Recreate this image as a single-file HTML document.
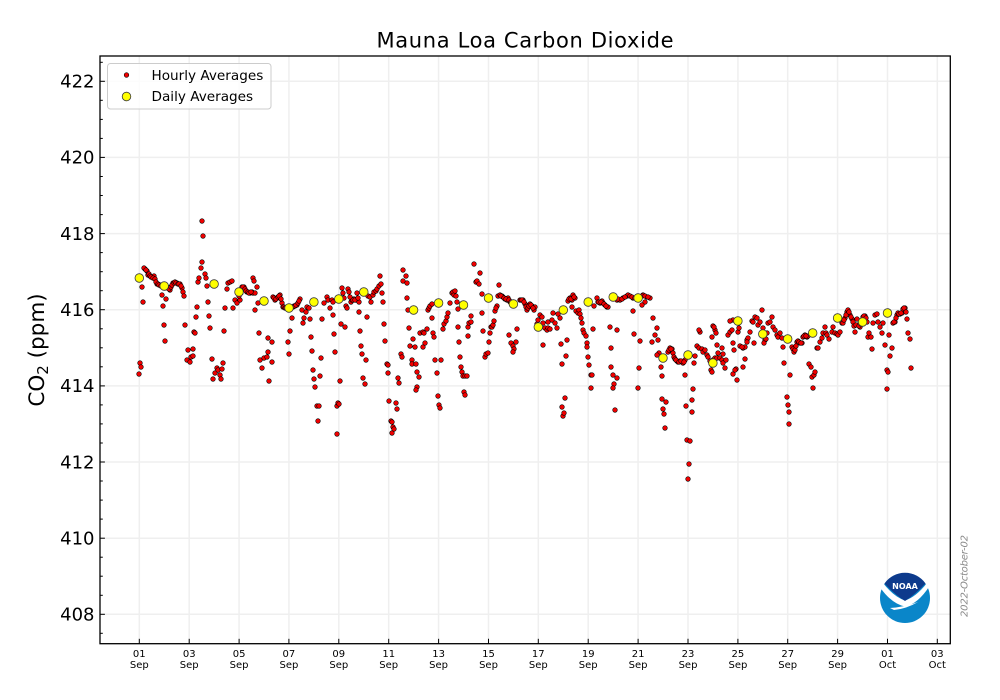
<!DOCTYPE html>
<html>
<head>
<meta charset="utf-8">
<style>
html,body{margin:0;padding:0;background:#fff;}
svg{display:block;}
text{font-family:"DejaVu Sans","Liberation Sans",sans-serif;}
</style>
</head>
<body>
<svg width="1000" height="700" viewBox="0 0 1000 700" xmlns="http://www.w3.org/2000/svg">
<rect x="0" y="0" width="1000" height="700" fill="#fff"/>
<!-- grid -->
<g stroke="#efefef" stroke-width="1.5">
<line x1="100" x2="950" y1="614.3" y2="614.3"/>
<line x1="100" x2="950" y1="538.2" y2="538.2"/>
<line x1="100" x2="950" y1="462.0" y2="462.0"/>
<line x1="100" x2="950" y1="385.9" y2="385.9"/>
<line x1="100" x2="950" y1="309.7" y2="309.7"/>
<line x1="100" x2="950" y1="233.6" y2="233.6"/>
<line x1="100" x2="950" y1="157.4" y2="157.4"/>
<line x1="100" x2="950" y1="81.3" y2="81.3"/>
<line y1="56" y2="643.7" x1="139.3" x2="139.3"/>
<line y1="56" y2="643.7" x1="189.2" x2="189.2"/>
<line y1="56" y2="643.7" x1="239.1" x2="239.1"/>
<line y1="56" y2="643.7" x1="288.9" x2="288.9"/>
<line y1="56" y2="643.7" x1="338.8" x2="338.8"/>
<line y1="56" y2="643.7" x1="388.7" x2="388.7"/>
<line y1="56" y2="643.7" x1="438.6" x2="438.6"/>
<line y1="56" y2="643.7" x1="488.5" x2="488.5"/>
<line y1="56" y2="643.7" x1="538.3" x2="538.3"/>
<line y1="56" y2="643.7" x1="588.2" x2="588.2"/>
<line y1="56" y2="643.7" x1="638.1" x2="638.1"/>
<line y1="56" y2="643.7" x1="688.0" x2="688.0"/>
<line y1="56" y2="643.7" x1="737.9" x2="737.9"/>
<line y1="56" y2="643.7" x1="787.7" x2="787.7"/>
<line y1="56" y2="643.7" x1="837.6" x2="837.6"/>
<line y1="56" y2="643.7" x1="887.5" x2="887.5"/>
<line y1="56" y2="643.7" x1="937.3" x2="937.3"/>
</g>

<!-- hourly -->
<g fill="#f00000" stroke="#000" stroke-width="0.6">
<circle cx="139" cy="374" r="2.3"/><circle cx="140" cy="363" r="2.3"/><circle cx="141" cy="367" r="2.3"/><circle cx="142" cy="287" r="2.3"/><circle cx="143" cy="302" r="2.3"/><circle cx="145" cy="269" r="2.3"/><circle cx="147" cy="271" r="2.3"/><circle cx="148" cy="275" r="2.3"/><circle cx="152" cy="277" r="2.3"/><circle cx="154" cy="276" r="2.3"/><circle cx="157" cy="284" r="2.3"/><circle cx="160" cy="285" r="2.3"/><circle cx="163" cy="287" r="2.3"/><circle cx="167" cy="287" r="2.3"/><circle cx="170" cy="290" r="2.3"/><circle cx="173" cy="283" r="2.3"/><circle cx="177" cy="283" r="2.3"/><circle cx="180" cy="284" r="2.3"/><circle cx="182" cy="288" r="2.3"/><circle cx="183" cy="292" r="2.3"/><circle cx="184" cy="296" r="2.3"/>
<circle cx="144" cy="268" r="2.3"/><circle cx="146" cy="270" r="2.3"/><circle cx="149" cy="274" r="2.3"/><circle cx="150" cy="276" r="2.3"/><circle cx="151" cy="277" r="2.3"/><circle cx="153" cy="278" r="2.3"/><circle cx="155" cy="279" r="2.3"/><circle cx="156" cy="282" r="2.3"/><circle cx="158" cy="284" r="2.3"/><circle cx="159" cy="285" r="2.3"/><circle cx="161" cy="286" r="2.3"/><circle cx="165" cy="288" r="2.3"/><circle cx="168" cy="288" r="2.3"/><circle cx="169" cy="289" r="2.3"/><circle cx="171" cy="287" r="2.3"/><circle cx="172" cy="285" r="2.3"/><circle cx="174" cy="283" r="2.3"/><circle cx="175" cy="282" r="2.3"/><circle cx="176" cy="283" r="2.3"/><circle cx="178" cy="284" r="2.3"/><circle cx="179" cy="284" r="2.3"/><circle cx="181" cy="286" r="2.3"/>
<circle cx="162" cy="295" r="2.3"/><circle cx="166" cy="299" r="2.3"/><circle cx="163" cy="306" r="2.3"/><circle cx="164" cy="325" r="2.3"/><circle cx="165" cy="341" r="2.3"/><circle cx="185" cy="325" r="2.3"/><circle cx="188" cy="350" r="2.3"/><circle cx="193" cy="349" r="2.3"/><circle cx="187" cy="360" r="2.3"/><circle cx="190" cy="362" r="2.3"/><circle cx="191" cy="357" r="2.3"/><circle cx="193" cy="356" r="2.3"/><circle cx="194" cy="332" r="2.3"/><circle cx="195" cy="333" r="2.3"/><circle cx="197" cy="307" r="2.3"/><circle cx="196" cy="317" r="2.3"/><circle cx="198" cy="282" r="2.3"/><circle cx="199" cy="278" r="2.3"/><circle cx="201" cy="268" r="2.3"/><circle cx="202" cy="262" r="2.3"/><circle cx="205" cy="274" r="2.3"/><circle cx="206" cy="278" r="2.3"/><circle cx="207" cy="286" r="2.3"/><circle cx="208" cy="302" r="2.3"/><circle cx="209" cy="316" r="2.3"/><circle cx="210" cy="328" r="2.3"/><circle cx="202" cy="221" r="2.3"/><circle cx="203" cy="236" r="2.3"/>
<circle cx="212" cy="359" r="2.3"/><circle cx="213" cy="379" r="2.3"/><circle cx="215" cy="373" r="2.3"/><circle cx="217" cy="368" r="2.3"/><circle cx="218" cy="370" r="2.3"/><circle cx="220" cy="375" r="2.3"/><circle cx="221" cy="379" r="2.3"/><circle cx="222" cy="369" r="2.3"/><circle cx="223" cy="363" r="2.3"/><circle cx="224" cy="331" r="2.3"/><circle cx="225" cy="308" r="2.3"/><circle cx="227" cy="289" r="2.3"/><circle cx="228" cy="283" r="2.3"/><circle cx="230" cy="282" r="2.3"/><circle cx="232" cy="281" r="2.3"/><circle cx="233" cy="308" r="2.3"/><circle cx="235" cy="300" r="2.3"/><circle cx="237" cy="303" r="2.3"/><circle cx="238" cy="292" r="2.3"/><circle cx="240" cy="300" r="2.3"/><circle cx="242" cy="287" r="2.3"/><circle cx="244" cy="287" r="2.3"/><circle cx="247" cy="292" r="2.3"/><circle cx="250" cy="293" r="2.3"/><circle cx="252" cy="292" r="2.3"/><circle cx="253" cy="293" r="2.3"/><circle cx="253" cy="278" r="2.3"/><circle cx="254" cy="281" r="2.3"/><circle cx="255" cy="293" r="2.3"/><circle cx="257" cy="287" r="2.3"/>
<circle cx="239" cy="296" r="2.3"/><circle cx="241" cy="293" r="2.3"/><circle cx="243" cy="287" r="2.3"/><circle cx="245" cy="289" r="2.3"/><circle cx="246" cy="291" r="2.3"/><circle cx="248" cy="292" r="2.3"/><circle cx="249" cy="293" r="2.3"/><circle cx="251" cy="292" r="2.3"/>
<circle cx="255" cy="310" r="2.3"/><circle cx="258" cy="303" r="2.3"/><circle cx="259" cy="333" r="2.3"/><circle cx="268" cy="338" r="2.3"/><circle cx="272" cy="342" r="2.3"/><circle cx="268" cy="352" r="2.3"/><circle cx="260" cy="360" r="2.3"/><circle cx="262" cy="368" r="2.3"/><circle cx="264" cy="358" r="2.3"/><circle cx="267" cy="357" r="2.3"/><circle cx="272" cy="362" r="2.3"/><circle cx="269" cy="381" r="2.3"/>
<circle cx="273" cy="297" r="2.3"/><circle cx="275" cy="300" r="2.3"/><circle cx="277" cy="298" r="2.3"/><circle cx="280" cy="295" r="2.3"/><circle cx="282" cy="303" r="2.3"/><circle cx="283" cy="307" r="2.3"/><circle cx="287" cy="308" r="2.3"/><circle cx="290" cy="307" r="2.3"/><circle cx="293" cy="307" r="2.3"/><circle cx="297" cy="305" r="2.3"/><circle cx="300" cy="299" r="2.3"/>
<circle cx="274" cy="298" r="2.3"/><circle cx="276" cy="299" r="2.3"/><circle cx="278" cy="297" r="2.3"/><circle cx="279" cy="296" r="2.3"/><circle cx="281" cy="299" r="2.3"/><circle cx="284" cy="307" r="2.3"/><circle cx="285" cy="308" r="2.3"/><circle cx="286" cy="308" r="2.3"/><circle cx="288" cy="308" r="2.3"/><circle cx="289" cy="307" r="2.3"/><circle cx="291" cy="307" r="2.3"/><circle cx="292" cy="307" r="2.3"/><circle cx="294" cy="306" r="2.3"/><circle cx="295" cy="306" r="2.3"/><circle cx="296" cy="305" r="2.3"/><circle cx="298" cy="303" r="2.3"/><circle cx="299" cy="301" r="2.3"/>
<circle cx="292" cy="318" r="2.3"/><circle cx="290" cy="331" r="2.3"/><circle cx="288" cy="342" r="2.3"/><circle cx="289" cy="354" r="2.3"/><circle cx="302" cy="310" r="2.3"/><circle cx="303" cy="323" r="2.3"/><circle cx="304" cy="318" r="2.3"/><circle cx="306" cy="312" r="2.3"/><circle cx="307" cy="307" r="2.3"/><circle cx="309" cy="308" r="2.3"/>
<circle cx="310" cy="319" r="2.3"/><circle cx="311" cy="337" r="2.3"/><circle cx="312" cy="351" r="2.3"/><circle cx="313" cy="370" r="2.3"/><circle cx="314" cy="379" r="2.3"/><circle cx="315" cy="387" r="2.3"/><circle cx="317" cy="406" r="2.3"/><circle cx="319" cy="406" r="2.3"/><circle cx="318" cy="421" r="2.3"/><circle cx="320" cy="376" r="2.3"/><circle cx="321" cy="358" r="2.3"/><circle cx="322" cy="319" r="2.3"/><circle cx="324" cy="303" r="2.3"/><circle cx="327" cy="297" r="2.3"/><circle cx="328" cy="300" r="2.3"/><circle cx="330" cy="308" r="2.3"/>
<circle cx="332" cy="300" r="2.3"/><circle cx="333" cy="302" r="2.3"/><circle cx="333" cy="315" r="2.3"/><circle cx="334" cy="334" r="2.3"/><circle cx="335" cy="352" r="2.3"/><circle cx="337" cy="434" r="2.3"/><circle cx="337" cy="406" r="2.3"/><circle cx="338" cy="403" r="2.3"/><circle cx="339" cy="404" r="2.3"/><circle cx="340" cy="381" r="2.3"/><circle cx="342" cy="288" r="2.3"/><circle cx="344" cy="298" r="2.3"/><circle cx="346" cy="306" r="2.3"/><circle cx="347" cy="308" r="2.3"/><circle cx="348" cy="289" r="2.3"/><circle cx="349" cy="292" r="2.3"/><circle cx="351" cy="302" r="2.3"/><circle cx="352" cy="300" r="2.3"/><circle cx="354" cy="299" r="2.3"/><circle cx="356" cy="300" r="2.3"/><circle cx="357" cy="293" r="2.3"/><circle cx="359" cy="302" r="2.3"/><circle cx="359" cy="312" r="2.3"/><circle cx="360" cy="331" r="2.3"/><circle cx="361" cy="346" r="2.3"/><circle cx="362" cy="354" r="2.3"/><circle cx="363" cy="378" r="2.3"/><circle cx="365" cy="384" r="2.3"/><circle cx="366" cy="360" r="2.3"/><circle cx="367" cy="317" r="2.3"/><circle cx="341" cy="324" r="2.3"/><circle cx="345" cy="327" r="2.3"/>
<circle cx="343" cy="293" r="2.3"/><circle cx="350" cy="297" r="2.3"/><circle cx="353" cy="300" r="2.3"/><circle cx="355" cy="300" r="2.3"/><circle cx="358" cy="298" r="2.3"/>
<circle cx="368" cy="296" r="2.3"/><circle cx="370" cy="297" r="2.3"/><circle cx="371" cy="302" r="2.3"/><circle cx="373" cy="295" r="2.3"/><circle cx="374" cy="292" r="2.3"/><circle cx="376" cy="291" r="2.3"/><circle cx="377" cy="289" r="2.3"/><circle cx="379" cy="286" r="2.3"/><circle cx="381" cy="284" r="2.3"/><circle cx="380" cy="276" r="2.3"/><circle cx="382" cy="293" r="2.3"/><circle cx="383" cy="302" r="2.3"/><circle cx="384" cy="324" r="2.3"/><circle cx="385" cy="341" r="2.3"/><circle cx="387" cy="364" r="2.3"/><circle cx="388" cy="365" r="2.3"/><circle cx="388" cy="373" r="2.3"/><circle cx="389" cy="401" r="2.3"/><circle cx="391" cy="421" r="2.3"/><circle cx="392" cy="422" r="2.3"/><circle cx="393" cy="427" r="2.3"/><circle cx="392" cy="433" r="2.3"/><circle cx="394" cy="429" r="2.3"/><circle cx="396" cy="403" r="2.3"/><circle cx="397" cy="409" r="2.3"/><circle cx="398" cy="378" r="2.3"/><circle cx="399" cy="383" r="2.3"/><circle cx="401" cy="354" r="2.3"/><circle cx="402" cy="357" r="2.3"/>
<circle cx="403" cy="270" r="2.3"/><circle cx="406" cy="276" r="2.3"/><circle cx="403" cy="281" r="2.3"/><circle cx="407" cy="283" r="2.3"/><circle cx="407" cy="298" r="2.3"/><circle cx="408" cy="310" r="2.3"/><circle cx="409" cy="328" r="2.3"/><circle cx="410" cy="346" r="2.3"/><circle cx="412" cy="360" r="2.3"/><circle cx="412" cy="364" r="2.3"/><circle cx="416" cy="364" r="2.3"/><circle cx="413" cy="339" r="2.3"/><circle cx="415" cy="347" r="2.3"/><circle cx="420" cy="333" r="2.3"/><circle cx="423" cy="332" r="2.3"/><circle cx="423" cy="347" r="2.3"/><circle cx="425" cy="343" r="2.3"/><circle cx="427" cy="329" r="2.3"/><circle cx="424" cy="333" r="2.3"/><circle cx="417" cy="372" r="2.3"/><circle cx="419" cy="377" r="2.3"/><circle cx="417" cy="387" r="2.3"/><circle cx="416" cy="390" r="2.3"/>
<circle cx="428" cy="310" r="2.3"/><circle cx="429" cy="308" r="2.3"/><circle cx="430" cy="306" r="2.3"/><circle cx="432" cy="304" r="2.3"/><circle cx="432" cy="318" r="2.3"/><circle cx="433" cy="333" r="2.3"/><circle cx="434" cy="337" r="2.3"/><circle cx="435" cy="360" r="2.3"/><circle cx="437" cy="373" r="2.3"/><circle cx="438" cy="396" r="2.3"/><circle cx="439" cy="405" r="2.3"/><circle cx="440" cy="408" r="2.3"/><circle cx="441" cy="360" r="2.3"/><circle cx="443" cy="329" r="2.3"/><circle cx="444" cy="324" r="2.3"/><circle cx="446" cy="321" r="2.3"/><circle cx="447" cy="317" r="2.3"/><circle cx="448" cy="313" r="2.3"/><circle cx="450" cy="303" r="2.3"/><circle cx="452" cy="293" r="2.3"/><circle cx="453" cy="292" r="2.3"/><circle cx="454" cy="295" r="2.3"/><circle cx="455" cy="291" r="2.3"/><circle cx="456" cy="296" r="2.3"/><circle cx="457" cy="302" r="2.3"/><circle cx="458" cy="309" r="2.3"/>
<circle cx="458" cy="327" r="2.3"/><circle cx="459" cy="342" r="2.3"/><circle cx="460" cy="357" r="2.3"/><circle cx="461" cy="367" r="2.3"/><circle cx="462" cy="372" r="2.3"/><circle cx="463" cy="376" r="2.3"/><circle cx="465" cy="376" r="2.3"/><circle cx="467" cy="376" r="2.3"/><circle cx="464" cy="392" r="2.3"/><circle cx="465" cy="395" r="2.3"/>
<circle cx="468" cy="336" r="2.3"/><circle cx="468" cy="327" r="2.3"/><circle cx="469" cy="323" r="2.3"/><circle cx="471" cy="322" r="2.3"/><circle cx="471" cy="316" r="2.3"/><circle cx="474" cy="264" r="2.3"/><circle cx="476" cy="282" r="2.3"/><circle cx="477" cy="281" r="2.3"/><circle cx="479" cy="284" r="2.3"/><circle cx="480" cy="273" r="2.3"/><circle cx="482" cy="294" r="2.3"/><circle cx="483" cy="331" r="2.3"/><circle cx="482" cy="313" r="2.3"/><circle cx="485" cy="357" r="2.3"/><circle cx="486" cy="354" r="2.3"/><circle cx="488" cy="353" r="2.3"/><circle cx="489" cy="342" r="2.3"/><circle cx="490" cy="333" r="2.3"/><circle cx="491" cy="327" r="2.3"/><circle cx="492" cy="327" r="2.3"/><circle cx="493" cy="325" r="2.3"/><circle cx="494" cy="321" r="2.3"/><circle cx="495" cy="311" r="2.3"/><circle cx="497" cy="306" r="2.3"/><circle cx="498" cy="296" r="2.3"/><circle cx="499" cy="285" r="2.3"/><circle cx="500" cy="295" r="2.3"/><circle cx="502" cy="296" r="2.3"/><circle cx="503" cy="297" r="2.3"/><circle cx="505" cy="299" r="2.3"/><circle cx="507" cy="300" r="2.3"/><circle cx="508" cy="298" r="2.3"/><circle cx="510" cy="302" r="2.3"/><circle cx="512" cy="302" r="2.3"/>
<circle cx="496" cy="308" r="2.3"/><circle cx="501" cy="296" r="2.3"/><circle cx="504" cy="298" r="2.3"/><circle cx="506" cy="299" r="2.3"/><circle cx="509" cy="300" r="2.3"/><circle cx="511" cy="302" r="2.3"/>
<circle cx="509" cy="335" r="2.3"/><circle cx="511" cy="343" r="2.3"/><circle cx="513" cy="346" r="2.3"/><circle cx="514" cy="349" r="2.3"/><circle cx="513" cy="352" r="2.3"/><circle cx="516" cy="342" r="2.3"/><circle cx="517" cy="329" r="2.3"/><circle cx="520" cy="300" r="2.3"/><circle cx="523" cy="300" r="2.3"/><circle cx="525" cy="304" r="2.3"/><circle cx="527" cy="310" r="2.3"/><circle cx="530" cy="304" r="2.3"/><circle cx="532" cy="306" r="2.3"/><circle cx="534" cy="310" r="2.3"/><circle cx="535" cy="307" r="2.3"/><circle cx="537" cy="324" r="2.3"/><circle cx="538" cy="320" r="2.3"/><circle cx="540" cy="315" r="2.3"/><circle cx="542" cy="317" r="2.3"/><circle cx="543" cy="323" r="2.3"/><circle cx="545" cy="328" r="2.3"/><circle cx="547" cy="330" r="2.3"/><circle cx="548" cy="322" r="2.3"/><circle cx="543" cy="345" r="2.3"/>
<circle cx="521" cy="300" r="2.3"/><circle cx="522" cy="300" r="2.3"/><circle cx="524" cy="302" r="2.3"/><circle cx="526" cy="307" r="2.3"/><circle cx="528" cy="308" r="2.3"/><circle cx="529" cy="306" r="2.3"/><circle cx="531" cy="305" r="2.3"/><circle cx="533" cy="308" r="2.3"/>
<circle cx="548" cy="328" r="2.3"/><circle cx="550" cy="329" r="2.3"/><circle cx="552" cy="320" r="2.3"/><circle cx="553" cy="313" r="2.3"/><circle cx="555" cy="323" r="2.3"/><circle cx="557" cy="328" r="2.3"/><circle cx="558" cy="314" r="2.3"/><circle cx="560" cy="318" r="2.3"/><circle cx="561" cy="344" r="2.3"/><circle cx="562" cy="364" r="2.3"/><circle cx="562" cy="407" r="2.3"/><circle cx="563" cy="416" r="2.3"/><circle cx="564" cy="413" r="2.3"/><circle cx="565" cy="398" r="2.3"/><circle cx="566" cy="356" r="2.3"/><circle cx="567" cy="340" r="2.3"/>
<circle cx="568" cy="301" r="2.3"/><circle cx="570" cy="298" r="2.3"/><circle cx="572" cy="300" r="2.3"/><circle cx="573" cy="295" r="2.3"/><circle cx="575" cy="298" r="2.3"/><circle cx="572" cy="307" r="2.3"/><circle cx="576" cy="311" r="2.3"/><circle cx="578" cy="313" r="2.3"/><circle cx="579" cy="310" r="2.3"/><circle cx="580" cy="314" r="2.3"/><circle cx="581" cy="318" r="2.3"/><circle cx="582" cy="323" r="2.3"/><circle cx="583" cy="330" r="2.3"/><circle cx="584" cy="333" r="2.3"/><circle cx="586" cy="336" r="2.3"/><circle cx="587" cy="343" r="2.3"/><circle cx="587" cy="347" r="2.3"/><circle cx="588" cy="357" r="2.3"/><circle cx="589" cy="365" r="2.3"/><circle cx="591" cy="375" r="2.3"/><circle cx="592" cy="375" r="2.3"/><circle cx="591" cy="388" r="2.3"/><circle cx="593" cy="329" r="2.3"/>
<circle cx="569" cy="299" r="2.3"/><circle cx="571" cy="299" r="2.3"/><circle cx="574" cy="297" r="2.3"/>
<circle cx="594" cy="306" r="2.3"/><circle cx="597" cy="298" r="2.3"/><circle cx="598" cy="302" r="2.3"/><circle cx="600" cy="303" r="2.3"/><circle cx="602" cy="301" r="2.3"/><circle cx="603" cy="303" r="2.3"/><circle cx="605" cy="305" r="2.3"/><circle cx="607" cy="307" r="2.3"/><circle cx="608" cy="307" r="2.3"/><circle cx="599" cy="302" r="2.3"/><circle cx="601" cy="302" r="2.3"/><circle cx="604" cy="304" r="2.3"/><circle cx="606" cy="306" r="2.3"/>
<circle cx="610" cy="327" r="2.3"/><circle cx="611" cy="348" r="2.3"/><circle cx="611" cy="367" r="2.3"/><circle cx="613" cy="375" r="2.3"/><circle cx="614" cy="384" r="2.3"/><circle cx="613" cy="388" r="2.3"/><circle cx="615" cy="410" r="2.3"/><circle cx="617" cy="378" r="2.3"/><circle cx="617" cy="330" r="2.3"/>
<circle cx="617" cy="300" r="2.3"/><circle cx="620" cy="300" r="2.3"/><circle cx="623" cy="298" r="2.3"/><circle cx="627" cy="296" r="2.3"/><circle cx="628" cy="295" r="2.3"/><circle cx="630" cy="296" r="2.3"/><circle cx="633" cy="298" r="2.3"/><circle cx="637" cy="297" r="2.3"/><circle cx="640" cy="297" r="2.3"/><circle cx="643" cy="295" r="2.3"/><circle cx="647" cy="297" r="2.3"/><circle cx="650" cy="298" r="2.3"/><circle cx="645" cy="302" r="2.3"/><circle cx="642" cy="305" r="2.3"/><circle cx="633" cy="311" r="2.3"/>
<circle cx="618" cy="299" r="2.3"/><circle cx="622" cy="299" r="2.3"/><circle cx="625" cy="297" r="2.3"/><circle cx="632" cy="297" r="2.3"/><circle cx="635" cy="298" r="2.3"/><circle cx="638" cy="296" r="2.3"/><circle cx="642" cy="296" r="2.3"/><circle cx="645" cy="296" r="2.3"/><circle cx="648" cy="297" r="2.3"/>
<circle cx="634" cy="334" r="2.3"/><circle cx="639" cy="368" r="2.3"/><circle cx="638" cy="388" r="2.3"/><circle cx="640" cy="341" r="2.3"/><circle cx="653" cy="318" r="2.3"/><circle cx="655" cy="335" r="2.3"/><circle cx="657" cy="328" r="2.3"/><circle cx="658" cy="340" r="2.3"/><circle cx="652" cy="342" r="2.3"/><circle cx="659" cy="353" r="2.3"/><circle cx="657" cy="355" r="2.3"/>
<circle cx="661" cy="367" r="2.3"/><circle cx="662" cy="376" r="2.3"/><circle cx="662" cy="399" r="2.3"/><circle cx="663" cy="409" r="2.3"/><circle cx="664" cy="414" r="2.3"/><circle cx="665" cy="428" r="2.3"/><circle cx="666" cy="402" r="2.3"/>
<circle cx="668" cy="352" r="2.3"/><circle cx="670" cy="348" r="2.3"/><circle cx="672" cy="349" r="2.3"/><circle cx="673" cy="353" r="2.3"/><circle cx="674" cy="357" r="2.3"/><circle cx="675" cy="359" r="2.3"/><circle cx="677" cy="361" r="2.3"/><circle cx="678" cy="362" r="2.3"/><circle cx="680" cy="361" r="2.3"/><circle cx="682" cy="362" r="2.3"/><circle cx="683" cy="363" r="2.3"/><circle cx="685" cy="360" r="2.3"/>
<circle cx="669" cy="350" r="2.3"/><circle cx="671" cy="349" r="2.3"/><circle cx="676" cy="360" r="2.3"/><circle cx="679" cy="362" r="2.3"/><circle cx="681" cy="361" r="2.3"/><circle cx="684" cy="362" r="2.3"/>
<circle cx="685" cy="375" r="2.3"/><circle cx="686" cy="406" r="2.3"/><circle cx="687" cy="440" r="2.3"/><circle cx="690" cy="441" r="2.3"/><circle cx="689" cy="464" r="2.3"/><circle cx="688" cy="479" r="2.3"/><circle cx="692" cy="400" r="2.3"/><circle cx="692" cy="412" r="2.3"/><circle cx="693" cy="389" r="2.3"/><circle cx="694" cy="363" r="2.3"/><circle cx="695" cy="356" r="2.3"/><circle cx="697" cy="346" r="2.3"/><circle cx="699" cy="348" r="2.3"/><circle cx="702" cy="349" r="2.3"/><circle cx="703" cy="352" r="2.3"/><circle cx="705" cy="350" r="2.3"/><circle cx="707" cy="355" r="2.3"/><circle cx="708" cy="357" r="2.3"/><circle cx="710" cy="361" r="2.3"/><circle cx="711" cy="370" r="2.3"/><circle cx="712" cy="372" r="2.3"/><circle cx="713" cy="360" r="2.3"/><circle cx="715" cy="358" r="2.3"/><circle cx="717" cy="358" r="2.3"/><circle cx="718" cy="353" r="2.3"/><circle cx="720" cy="358" r="2.3"/><circle cx="722" cy="360" r="2.3"/><circle cx="723" cy="363" r="2.3"/><circle cx="725" cy="368" r="2.3"/><circle cx="726" cy="360" r="2.3"/><circle cx="723" cy="354" r="2.3"/><circle cx="722" cy="348" r="2.3"/><circle cx="717" cy="345" r="2.3"/><circle cx="712" cy="337" r="2.3"/><circle cx="713" cy="326" r="2.3"/><circle cx="715" cy="330" r="2.3"/><circle cx="716" cy="333" r="2.3"/><circle cx="714" cy="327" r="2.3"/><circle cx="700" cy="332" r="2.3"/><circle cx="699" cy="330" r="2.3"/>
<circle cx="728" cy="335" r="2.3"/><circle cx="730" cy="332" r="2.3"/><circle cx="732" cy="330" r="2.3"/><circle cx="733" cy="320" r="2.3"/><circle cx="733" cy="343" r="2.3"/><circle cx="734" cy="350" r="2.3"/><circle cx="736" cy="369" r="2.3"/><circle cx="737" cy="380" r="2.3"/><circle cx="733" cy="374" r="2.3"/><circle cx="735" cy="370" r="2.3"/><circle cx="738" cy="332" r="2.3"/><circle cx="739" cy="328" r="2.3"/><circle cx="730" cy="321" r="2.3"/>
<circle cx="740" cy="346" r="2.3"/><circle cx="743" cy="348" r="2.3"/><circle cx="745" cy="347" r="2.3"/><circle cx="747" cy="340" r="2.3"/><circle cx="748" cy="338" r="2.3"/><circle cx="750" cy="332" r="2.3"/><circle cx="752" cy="321" r="2.3"/><circle cx="753" cy="322" r="2.3"/><circle cx="755" cy="317" r="2.3"/><circle cx="757" cy="318" r="2.3"/><circle cx="758" cy="325" r="2.3"/><circle cx="760" cy="322" r="2.3"/><circle cx="762" cy="310" r="2.3"/><circle cx="763" cy="328" r="2.3"/><circle cx="765" cy="340" r="2.3"/><circle cx="767" cy="333" r="2.3"/><circle cx="768" cy="323" r="2.3"/><circle cx="770" cy="322" r="2.3"/><circle cx="772" cy="317" r="2.3"/><circle cx="773" cy="327" r="2.3"/><circle cx="775" cy="330" r="2.3"/><circle cx="777" cy="335" r="2.3"/><circle cx="778" cy="337" r="2.3"/><circle cx="780" cy="333" r="2.3"/><circle cx="782" cy="338" r="2.3"/><circle cx="783" cy="347" r="2.3"/><circle cx="745" cy="359" r="2.3"/><circle cx="743" cy="367" r="2.3"/><circle cx="754" cy="343" r="2.3"/><circle cx="764" cy="343" r="2.3"/><circle cx="766" cy="339" r="2.3"/><circle cx="742" cy="347" r="2.3"/><circle cx="747" cy="342" r="2.3"/>
<circle cx="784" cy="363" r="2.3"/><circle cx="787" cy="397" r="2.3"/><circle cx="788" cy="405" r="2.3"/><circle cx="789" cy="412" r="2.3"/><circle cx="789" cy="424" r="2.3"/><circle cx="790" cy="375" r="2.3"/><circle cx="792" cy="347" r="2.3"/><circle cx="793" cy="349" r="2.3"/><circle cx="794" cy="352" r="2.3"/><circle cx="797" cy="342" r="2.3"/><circle cx="798" cy="341" r="2.3"/><circle cx="800" cy="343" r="2.3"/><circle cx="802" cy="343" r="2.3"/><circle cx="803" cy="337" r="2.3"/><circle cx="805" cy="335" r="2.3"/><circle cx="807" cy="337" r="2.3"/><circle cx="808" cy="336" r="2.3"/><circle cx="795" cy="350" r="2.3"/><circle cx="796" cy="346" r="2.3"/><circle cx="799" cy="342" r="2.3"/><circle cx="801" cy="343" r="2.3"/><circle cx="804" cy="336" r="2.3"/><circle cx="806" cy="336" r="2.3"/>
<circle cx="809" cy="364" r="2.3"/><circle cx="811" cy="367" r="2.3"/><circle cx="812" cy="377" r="2.3"/><circle cx="813" cy="388" r="2.3"/><circle cx="814" cy="375" r="2.3"/><circle cx="815" cy="372" r="2.3"/><circle cx="817" cy="348" r="2.3"/><circle cx="818" cy="348" r="2.3"/><circle cx="820" cy="342" r="2.3"/><circle cx="822" cy="338" r="2.3"/><circle cx="823" cy="333" r="2.3"/><circle cx="825" cy="327" r="2.3"/><circle cx="826" cy="333" r="2.3"/><circle cx="827" cy="335" r="2.3"/><circle cx="829" cy="339" r="2.3"/><circle cx="832" cy="332" r="2.3"/><circle cx="833" cy="327" r="2.3"/><circle cx="835" cy="333" r="2.3"/><circle cx="837" cy="334" r="2.3"/><circle cx="838" cy="335" r="2.3"/><circle cx="840" cy="332" r="2.3"/><circle cx="842" cy="323" r="2.3"/><circle cx="843" cy="323" r="2.3"/><circle cx="845" cy="318" r="2.3"/><circle cx="847" cy="312" r="2.3"/><circle cx="848" cy="310" r="2.3"/><circle cx="850" cy="315" r="2.3"/><circle cx="852" cy="319" r="2.3"/><circle cx="853" cy="322" r="2.3"/><circle cx="855" cy="332" r="2.3"/><circle cx="857" cy="319" r="2.3"/><circle cx="858" cy="325" r="2.3"/><circle cx="860" cy="327" r="2.3"/><circle cx="862" cy="321" r="2.3"/><circle cx="863" cy="317" r="2.3"/><circle cx="865" cy="316" r="2.3"/><circle cx="867" cy="322" r="2.3"/>
<circle cx="844" cy="320" r="2.3"/><circle cx="846" cy="315" r="2.3"/><circle cx="849" cy="312" r="2.3"/><circle cx="851" cy="317" r="2.3"/><circle cx="854" cy="326" r="2.3"/><circle cx="856" cy="325" r="2.3"/><circle cx="859" cy="326" r="2.3"/><circle cx="861" cy="324" r="2.3"/><circle cx="864" cy="316" r="2.3"/><circle cx="866" cy="318" r="2.3"/>
<circle cx="868" cy="337" r="2.3"/><circle cx="869" cy="333" r="2.3"/><circle cx="871" cy="337" r="2.3"/><circle cx="872" cy="349" r="2.3"/><circle cx="873" cy="323" r="2.3"/><circle cx="875" cy="315" r="2.3"/><circle cx="877" cy="314" r="2.3"/><circle cx="878" cy="322" r="2.3"/><circle cx="880" cy="327" r="2.3"/><circle cx="882" cy="333" r="2.3"/><circle cx="883" cy="323" r="2.3"/><circle cx="885" cy="345" r="2.3"/><circle cx="887" cy="370" r="2.3"/><circle cx="888" cy="372" r="2.3"/><circle cx="887" cy="389" r="2.3"/><circle cx="889" cy="335" r="2.3"/><circle cx="890" cy="356" r="2.3"/><circle cx="892" cy="348" r="2.3"/><circle cx="893" cy="323" r="2.3"/><circle cx="895" cy="322" r="2.3"/><circle cx="897" cy="315" r="2.3"/><circle cx="898" cy="313" r="2.3"/><circle cx="900" cy="314" r="2.3"/><circle cx="902" cy="313" r="2.3"/><circle cx="903" cy="309" r="2.3"/><circle cx="905" cy="308" r="2.3"/><circle cx="907" cy="319" r="2.3"/><circle cx="908" cy="333" r="2.3"/><circle cx="910" cy="339" r="2.3"/><circle cx="911" cy="368" r="2.3"/>
<circle cx="894" cy="322" r="2.3"/><circle cx="896" cy="318" r="2.3"/><circle cx="899" cy="314" r="2.3"/><circle cx="901" cy="313" r="2.3"/><circle cx="904" cy="308" r="2.3"/><circle cx="906" cy="312" r="2.3"/>
</g>

<!-- daily -->
<g fill="#ffff00" stroke="#3a3a3a" stroke-width="0.8">
<circle cx="139.3" cy="278" r="4.3"/><circle cx="164.2" cy="286" r="4.3"/><circle cx="214.1" cy="284" r="4.3"/><circle cx="239" cy="292" r="4.3"/><circle cx="264" cy="301" r="4.3"/><circle cx="289" cy="308" r="4.3"/><circle cx="313.9" cy="302" r="4.3"/><circle cx="338.8" cy="299" r="4.3"/><circle cx="363.8" cy="292" r="4.3"/><circle cx="413.6" cy="310" r="4.3"/><circle cx="438.6" cy="303" r="4.3"/><circle cx="463.5" cy="305" r="4.3"/><circle cx="488.5" cy="298" r="4.3"/><circle cx="513.4" cy="304" r="4.3"/><circle cx="538.3" cy="327" r="4.3"/><circle cx="563.3" cy="310" r="4.3"/><circle cx="588.2" cy="302" r="4.3"/><circle cx="613.2" cy="297" r="4.3"/><circle cx="638.1" cy="298" r="4.3"/><circle cx="663" cy="358" r="4.3"/><circle cx="688" cy="355" r="4.3"/><circle cx="712.9" cy="363" r="4.3"/><circle cx="737.9" cy="321" r="4.3"/><circle cx="762.8" cy="334" r="4.3"/><circle cx="787.7" cy="339" r="4.3"/><circle cx="812.7" cy="333" r="4.3"/><circle cx="837.6" cy="318" r="4.3"/><circle cx="862.6" cy="322" r="4.3"/><circle cx="887.5" cy="313" r="4.3"/>
</g>

<!-- NOAA logo -->
<g>
<circle cx="905" cy="598" r="25" fill="#0a86c9"/>
<path d="M880.5,588 Q892,604 905,606.5 Q918,604 929.5,586 L927,583 Q916,597 905,600.5 Q894,597 883,583 Z" fill="#fff"/>
<path d="M890,608 Q905,607 918,602 Q906,609 894,610 Z" fill="#fff"/>
<path d="M884.5,583.5 A25,25 0 0 1 925.5,583.5 Q916,594 905,601 Q894,594 884.5,583.5 Z" fill="#0d3a8c"/>
<text x="905" y="589" text-anchor="middle" font-size="8" font-weight="bold" fill="#fff">NOAA</text>
</g>

<!-- spines -->
<rect x="100" y="56" width="850.3" height="587.7" fill="none" stroke="#000" stroke-width="1.3"/>

<!-- y ticks -->
<g stroke="#000" stroke-width="1">
<line x1="100" x2="104.9" y1="614.3" y2="614.3"/>
<line x1="100" x2="104.9" y1="538.2" y2="538.2"/>
<line x1="100" x2="104.9" y1="462.0" y2="462.0"/>
<line x1="100" x2="104.9" y1="385.9" y2="385.9"/>
<line x1="100" x2="104.9" y1="309.7" y2="309.7"/>
<line x1="100" x2="104.9" y1="233.6" y2="233.6"/>
<line x1="100" x2="104.9" y1="157.4" y2="157.4"/>
<line x1="100" x2="104.9" y1="81.3" y2="81.3"/>
<line x1="100" x2="102.8" y1="633.3" y2="633.3"/>
<line x1="100" x2="102.8" y1="595.3" y2="595.3"/>
<line x1="100" x2="102.8" y1="576.2" y2="576.2"/>
<line x1="100" x2="102.8" y1="557.2" y2="557.2"/>
<line x1="100" x2="102.8" y1="519.1" y2="519.1"/>
<line x1="100" x2="102.8" y1="500.1" y2="500.1"/>
<line x1="100" x2="102.8" y1="481.0" y2="481.0"/>
<line x1="100" x2="102.8" y1="443.0" y2="443.0"/>
<line x1="100" x2="102.8" y1="423.9" y2="423.9"/>
<line x1="100" x2="102.8" y1="404.9" y2="404.9"/>
<line x1="100" x2="102.8" y1="366.8" y2="366.8"/>
<line x1="100" x2="102.8" y1="347.8" y2="347.8"/>
<line x1="100" x2="102.8" y1="328.8" y2="328.8"/>
<line x1="100" x2="102.8" y1="290.7" y2="290.7"/>
<line x1="100" x2="102.8" y1="271.7" y2="271.7"/>
<line x1="100" x2="102.8" y1="252.6" y2="252.6"/>
<line x1="100" x2="102.8" y1="214.6" y2="214.6"/>
<line x1="100" x2="102.8" y1="195.5" y2="195.5"/>
<line x1="100" x2="102.8" y1="176.5" y2="176.5"/>
<line x1="100" x2="102.8" y1="138.4" y2="138.4"/>
<line x1="100" x2="102.8" y1="119.4" y2="119.4"/>
<line x1="100" x2="102.8" y1="100.3" y2="100.3"/>
<line x1="100" x2="102.8" y1="62.3" y2="62.3"/>
</g>

<!-- x ticks -->
<g stroke="#000" stroke-width="1">
<line y1="643.7" y2="638.8" x1="139.3" x2="139.3"/>
<line y1="643.7" y2="638.8" x1="189.2" x2="189.2"/>
<line y1="643.7" y2="638.8" x1="239.1" x2="239.1"/>
<line y1="643.7" y2="638.8" x1="288.9" x2="288.9"/>
<line y1="643.7" y2="638.8" x1="338.8" x2="338.8"/>
<line y1="643.7" y2="638.8" x1="388.7" x2="388.7"/>
<line y1="643.7" y2="638.8" x1="438.6" x2="438.6"/>
<line y1="643.7" y2="638.8" x1="488.5" x2="488.5"/>
<line y1="643.7" y2="638.8" x1="538.3" x2="538.3"/>
<line y1="643.7" y2="638.8" x1="588.2" x2="588.2"/>
<line y1="643.7" y2="638.8" x1="638.1" x2="638.1"/>
<line y1="643.7" y2="638.8" x1="688.0" x2="688.0"/>
<line y1="643.7" y2="638.8" x1="737.9" x2="737.9"/>
<line y1="643.7" y2="638.8" x1="787.7" x2="787.7"/>
<line y1="643.7" y2="638.8" x1="837.6" x2="837.6"/>
<line y1="643.7" y2="638.8" x1="887.5" x2="887.5"/>
<line y1="643.7" y2="638.8" x1="937.3" x2="937.3"/>
</g>

<!-- y tick labels -->
<g font-size="18" text-anchor="end" fill="#000">
<text x="94.5" y="620.6">408</text>
<text x="94.5" y="544.5">410</text>
<text x="94.5" y="468.3">412</text>
<text x="94.5" y="392.2">414</text>
<text x="94.5" y="316.0">416</text>
<text x="94.5" y="239.9">418</text>
<text x="94.5" y="163.7">420</text>
<text x="94.5" y="87.6">422</text>
</g>

<!-- x tick labels -->
<g font-size="10" text-anchor="middle" fill="#000">
<text x="139.3" y="657">01</text><text x="139.3" y="668">Sep</text>
<text x="189.2" y="657">03</text><text x="189.2" y="668">Sep</text>
<text x="239.1" y="657">05</text><text x="239.1" y="668">Sep</text>
<text x="288.9" y="657">07</text><text x="288.9" y="668">Sep</text>
<text x="338.8" y="657">09</text><text x="338.8" y="668">Sep</text>
<text x="388.7" y="657">11</text><text x="388.7" y="668">Sep</text>
<text x="438.6" y="657">13</text><text x="438.6" y="668">Sep</text>
<text x="488.5" y="657">15</text><text x="488.5" y="668">Sep</text>
<text x="538.3" y="657">17</text><text x="538.3" y="668">Sep</text>
<text x="588.2" y="657">19</text><text x="588.2" y="668">Sep</text>
<text x="638.1" y="657">21</text><text x="638.1" y="668">Sep</text>
<text x="688.0" y="657">23</text><text x="688.0" y="668">Sep</text>
<text x="737.9" y="657">25</text><text x="737.9" y="668">Sep</text>
<text x="787.7" y="657">27</text><text x="787.7" y="668">Sep</text>
<text x="837.6" y="657">29</text><text x="837.6" y="668">Sep</text>
<text x="887.5" y="657">01</text><text x="887.5" y="668">Oct</text>
<text x="937.3" y="657">03</text><text x="937.3" y="668">Oct</text>
</g>

<!-- title -->
<text x="525" y="47.3" text-anchor="middle" font-size="21" textLength="297" lengthAdjust="spacing" fill="#000">Mauna Loa Carbon Dioxide</text>

<!-- y label -->
<text transform="translate(44,350) rotate(-90)" text-anchor="middle" font-size="21.5" fill="#000">CO<tspan font-size="15" dy="4">2</tspan><tspan dy="-4"> (ppm)</tspan></text>

<!-- date stamp -->
<text transform="translate(967.5,576) rotate(-90)" text-anchor="middle" font-size="10" font-style="italic" fill="#8a8a8a" textLength="82" lengthAdjust="spacing">2022-October-02</text>

<!-- legend -->
<rect x="107.5" y="63.5" width="163.5" height="45.5" rx="3" ry="3" fill="#fff" fill-opacity="0.8" stroke="#cccccc" stroke-width="1"/>
<circle cx="126.5" cy="75" r="2.3" fill="#f00000" stroke="#000" stroke-width="0.6"/>
<circle cx="126.5" cy="96.5" r="4.3" fill="#ffff00" stroke="#3a3a3a" stroke-width="0.8"/>
<text x="151.5" y="80" font-size="13.6" fill="#000">Hourly Averages</text>
<text x="151.5" y="101" font-size="13.6" fill="#000">Daily Averages</text>
</svg>
</body>
</html>
